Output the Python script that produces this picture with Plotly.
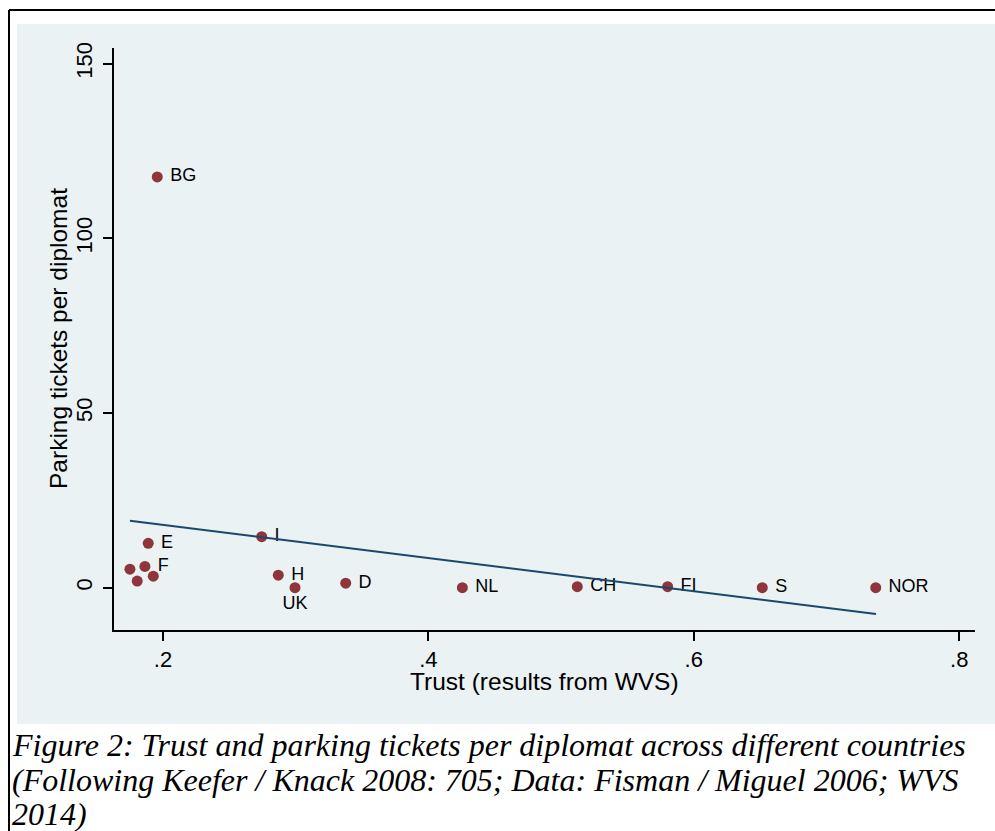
import plotly.graph_objects as go

# ---- data ----
countries = ["BG", "I", "E", "F", "", "", "", "H", "UK", "D", "NL", "CH", "FI", "S", "NOR"]
trust = [0.1957, 0.2744, 0.1889, 0.1864, 0.1751, 0.1806, 0.1927, 0.2869, 0.2995,
         0.3377, 0.4256, 0.5122, 0.5803, 0.6516, 0.7371]
tickets = [117.6, 14.6, 12.7, 6.1, 5.3, 1.9, 3.3, 3.6, 0.0,
           1.3, 0.0, 0.3, 0.3, 0.0, 0.0]
label_pos = ["middle right"] * 8 + ["bottom center"] + ["middle right"] * 6

fit_x = [0.1751, 0.7373]
fit_y = [19.2, -7.5]

x_ticks = [0.2, 0.4, 0.6, 0.8]
x_ticklabels = [".2", ".4", ".6", ".8"]
y_ticks = [0, 50, 100, 150]
y_ticklabels = ["0", "50", "100", "150"]

x_title = "Trust (results from WVS)"
y_title = "Parking tickets per diplomat"
caption_lines = [
    "Figure 2: Trust and parking tickets per diplomat across different countries",
    "(Following Keefer / Knack 2008: 705; Data: Fisman / Miguel 2006; WVS",
    "2014)",
]

# ---- layout geometry (screen pixels) ----
W, H = 995, 831
L, R, T, B = 114, 975, 48, 630


def px(xp):
    return (xp - L) / (R - L)


def py(yp):
    return (B - yp) / (B - T)


SANS = "Liberation Sans, Arial, sans-serif"
SERIF = "Liberation Serif, Times New Roman, serif"
BG_BLUE = "#eaf2f3"

fig = go.Figure()
fig.add_trace(go.Scatter(
    x=trust, y=tickets, mode="markers+text",
    text=[(" " + c) if c and p == "middle right" else c for c, p in zip(countries, label_pos)],
    textposition=label_pos,
    textfont=dict(family=SANS, size=18, color="black"),
    marker=dict(size=11, color="#90353b"),
    showlegend=False, cliponaxis=False,
))
fig.add_trace(go.Scatter(
    x=fit_x, y=fit_y, mode="lines",
    line=dict(color="#1a476f", width=2),
    showlegend=False,
))

shapes = [
    dict(type="rect", xref="paper", yref="paper",
         x0=px(17), x1=px(1000), y0=py(724), y1=py(24),
         fillcolor=BG_BLUE, line=dict(width=0), layer="below"),
    dict(type="line", xref="paper", yref="paper",
         x0=px(9), x1=px(1000), y0=py(10), y1=py(10),
         line=dict(color="black", width=2)),
    dict(type="line", xref="paper", yref="paper",
         x0=px(9), x1=px(9), y0=py(10), y1=py(840),
         line=dict(color="black", width=2)),
]

annotations = [
    dict(text=x_title, xref="paper", yref="paper", x=0.5, y=py(681),
         xanchor="center", yanchor="middle", showarrow=False,
         font=dict(family=SANS, size=24.5, color="black")),
    dict(text=y_title, xref="paper", yref="paper", x=px(58), y=0.5,
         xanchor="center", yanchor="middle", showarrow=False, textangle=-90,
         font=dict(family=SANS, size=24.5, color="black")),
]
cap_y = [745, 780, 814]
for line, yy in zip(caption_lines, cap_y):
    annotations.append(dict(
        text="<i>" + line + "</i>", xref="paper", yref="paper",
        x=px(10), y=py(yy), xanchor="left", yanchor="middle", showarrow=False,
        font=dict(family=SERIF, size=32, color="black")))

fig.update_layout(
    width=W, height=H,
    margin=dict(l=L, r=W - R, t=T, b=H - B),
    paper_bgcolor="white", plot_bgcolor="white",
    shapes=shapes, annotations=annotations,
    xaxis=dict(range=[0.1631, 0.8119], tickvals=x_ticks, ticktext=x_ticklabels,
               showgrid=False, zeroline=False, showline=True, linecolor="black",
               linewidth=2, ticks="outside", ticklen=9, tickwidth=1.5,
               tickcolor="black", tickfont=dict(family=SANS, size=22, color="black")),
    yaxis=dict(range=[-12.1, 154.5], tickvals=y_ticks, ticktext=y_ticklabels,
               showgrid=True, gridcolor=BG_BLUE, gridwidth=1.5, zeroline=False,
               showline=True, linecolor="black", linewidth=2, ticks="outside",
               ticklen=9, tickwidth=1.5, tickcolor="black", tickangle=-90,
               ticklabelstandoff=2,
               tickfont=dict(family=SANS, size=22, color="black")),
)

fig.write_html("out.html",
               config={"displayModeBar": False},
               post_script="document.body.style.margin='0px';document.body.style.overflow='hidden';")
